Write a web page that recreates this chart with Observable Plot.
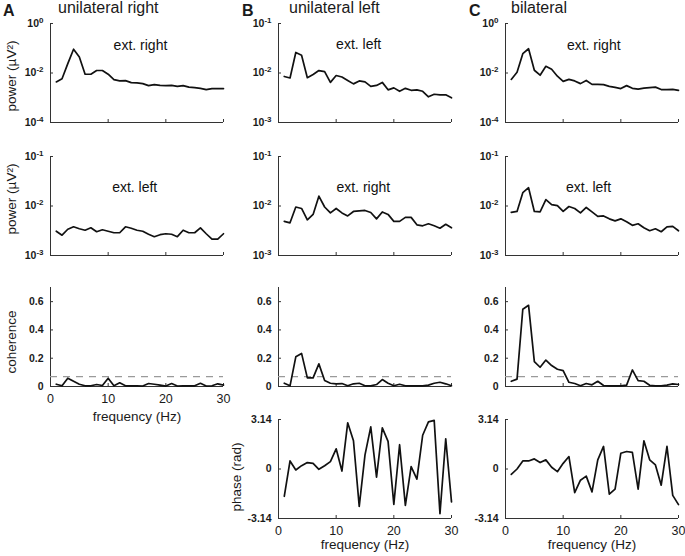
<!DOCTYPE html>
<html><head><meta charset="utf-8">
<script src="https://cdn.jsdelivr.net/npm/d3@7"></script>
<script src="https://cdn.jsdelivr.net/npm/@observablehq/plot@0.6"></script>
<style>
body{margin:0;background:#fff;}
#fig{position:relative;width:685px;height:556px;font-family:"Liberation Sans",Arial,sans-serif;color:#1a1a1a;overflow:hidden;}
.lab{position:absolute;white-space:nowrap;line-height:1;}
.rot{transform:translate(-50%,-50%) rotate(-90deg);}
.cen{transform:translate(-50%,-50%);}
.panel{position:absolute;}
</style></head><body><div id="fig"></div><script>
// ---- data (frequency in Hz) ----
const freq = [1,2,3,4,5,6,7,8,9,10,11,12,13,14,15,16,17,18,19,20,21,22,23,24,25,26,27,28,29,30];

// power (µV²), column A = unilateral right, B = unilateral left, C = bilateral
const powerA_extRight = [0.00437,0.00589,0.0240,0.0912,0.0447,0.00891,0.00891,0.0126,0.0126,0.00891,0.00537,0.00479,0.0049,0.00407,0.00398,0.00372,0.00309,0.00339,0.00316,0.00309,0.00316,0.00288,0.00309,0.00269,0.00257,0.0024,0.00214,0.00234,0.00234,0.00234];
const powerB_extLeft  = [0.00851,0.00794,0.0260,0.0229,0.00804,0.00933,0.0112,0.0107,0.00646,0.00891,0.00832,0.00708,0.00603,0.00692,0.00661,0.00537,0.00562,0.00646,0.00457,0.00501,0.00427,0.0049,0.00447,0.00457,0.00427,0.00331,0.00372,0.00363,0.00363,0.00316];
const powerC_extRight = [0.0055,0.0107,0.0603,0.0955,0.0129,0.00813,0.0186,0.0141,0.00741,0.00457,0.0055,0.00479,0.00372,0.00501,0.00347,0.00347,0.00339,0.00288,0.00263,0.00234,0.00309,0.0024,0.00224,0.00245,0.00257,0.00269,0.00214,0.00214,0.00219,0.0020];
const powerA_extLeft  = [0.00309,0.00257,0.00339,0.0038,0.00347,0.00324,0.00363,0.00302,0.00331,0.00309,0.00288,0.00288,0.0038,0.00355,0.00324,0.00309,0.00269,0.0024,0.00263,0.00275,0.00269,0.0024,0.00324,0.00288,0.00288,0.00363,0.00275,0.00214,0.00214,0.00275];
const powerB_extRight = [0.0049,0.00457,0.00955,0.00891,0.00525,0.00676,0.0158,0.00955,0.00724,0.00891,0.00724,0.00631,0.00776,0.00794,0.00813,0.00741,0.0055,0.00759,0.00676,0.0049,0.0049,0.00589,0.00589,0.00417,0.00398,0.00437,0.00398,0.00355,0.00427,0.00363];
const powerC_extLeft  = [0.00741,0.00776,0.0186,0.0234,0.00776,0.00759,0.0135,0.0107,0.0102,0.00776,0.00977,0.00891,0.00724,0.00933,0.00759,0.00617,0.00631,0.0055,0.00501,0.0055,0.00479,0.00407,0.00437,0.00363,0.00316,0.00347,0.00302,0.0038,0.00389,0.00316];

// coherence
const cohA = [0.016,0.005,0.059,0.037,0.016,0.005,0.005,0.014,0.007,0.059,0.005,0.026,0.005,0.004,0.004,0.003,0.021,0.016,0.010,0.003,0.021,0.003,0.005,0.005,0.005,0.023,0.003,0.005,0.019,0.010];
const cohB = [0.023,0.005,0.210,0.234,0.061,0.061,0.160,0.042,0.023,0.019,0.021,0.005,0.019,0.023,0.005,0.004,0.014,0.049,0.023,0.005,0.016,0.005,0.005,0.005,0.005,0.010,0.023,0.030,0.019,0.005];
const cohC = [0.037,0.052,0.546,0.574,0.176,0.136,0.187,0.148,0.122,0.112,0.030,0.021,0.005,0.021,0.012,0.037,0.007,0.005,0.005,0.005,0.010,0.117,0.042,0.037,0.009,0.005,0.005,0.010,0.019,0.014];
const cohThreshold = [0.07];

// phase (rad)
const phaseB = [-1.73,0.51,-0.06,0.21,0.41,0.36,-0.02,0.21,0.47,1.28,-0.13,2.93,1.79,-2.37,0.90,2.67,-0.51,2.61,1.75,-2.24,1.54,-2.31,0.15,-0.64,2.14,2.99,3.08,-2.84,1.92,-2.09];
const phaseC = [-0.34,0.0,0.51,0.51,0.64,0.41,0.58,0.11,-0.17,0.36,0.79,-1.50,-0.71,-0.45,-1.45,0.58,1.43,-1.60,-1.28,1.00,1.11,1.05,-1.28,1.79,0.58,0.26,-1.03,1.43,-1.67,-2.26];

// tick labels
const xTicks = [0,10,20,30];
const logTicksWide = [1e-4,1e-2,1];
const logTicksNarrow = [1e-3,1e-2,1e-1];
const cohTicks = [0,0.2,0.4,0.6];
const phaseTicks = [-3.14,0,3.14];
const phaseTickLabels = ["-3.14","0","3.14"];

// ---- layout ----
const FONT = '"Liberation Sans", Arial, Helvetica, sans-serif';
const fig = document.getElementById("fig");
const colLeft = {A:50, B:278, C:505};
const rowTop = {1:23, 2:156, 3:287, 4:419};
const PW = 173, PH = 99;
const NS = "http://www.w3.org/2000/svg";

function supFix(svg){
  svg.querySelectorAll("text").forEach(t => {
    const m = /^10\^(-?\d+)$/.exec(t.textContent);
    if (m) {
      t.textContent = "10";
      const s = document.createElementNS(NS, "tspan");
      s.setAttribute("dy", "-0.5em");
      s.setAttribute("font-size", "8");
      s.textContent = m[1];
      t.appendChild(s);
    }
  });
}

function panel(col, row, values, yOpt, yTicks, yFmt, opts = {}) {
  const mL = 46, mR = 6, mT = 8, mB = opts.xLabels ? 24 : 6;
  const data = freq.map((f, i) => ({f, v: values[i]}));
  const marks = [
    Plot.ruleX([0], {stroke: "#333", strokeWidth: 1}),
    Plot.ruleY([yOpt.domain[0]], {stroke: "#333", strokeWidth: 1}),
    Plot.axisX({ticks: xTicks, tickSize: -3, tickPadding: opts.xLabels ? 11 : 0,
      tickFormat: opts.xLabels ? (d => String(d)) : (() => ""), fontSize: 12.5, label: null, stroke: "#333"}),
    Plot.axisY({ticks: yTicks, tickSize: -3, tickPadding: 10, tickFormat: yFmt,
      fontSize: 10.5, fontWeight: "bold", label: null, stroke: "#333"}),
  ];
  if (opts.threshold) marks.push(Plot.ruleY(cohThreshold, {stroke: "#9a9a9a", strokeWidth: 1.4, strokeDasharray: "7,6"}));
  marks.push(Plot.line(data, {x: "f", y: "v", stroke: "#111", strokeWidth: 1.7}));
  if (opts.anno) marks.push(Plot.text([opts.anno], {x: "x", y: "y", text: "t", fontSize: 14, fill: "#111"}));
  const svg = Plot.plot({
    width: mL + PW + mR, height: mT + PH + mB,
    marginLeft: mL, marginRight: mR, marginTop: mT, marginBottom: mB,
    style: {fontFamily: FONT, color: "#1a1a1a", background: "transparent", overflow: "visible"},
    x: {domain: [0, 30]},
    y: yOpt,
    marks
  });
  supFix(svg);
  svg.classList.add("panel");
  svg.style.left = (colLeft[col] - mL) + "px";
  svg.style.top = (rowTop[row] - mT) + "px";
  fig.appendChild(svg);
}

const logFmt = d => "10^" + Math.round(Math.log10(d));
const wideLog = {type: "log", domain: [1e-4, 1]};
const narrowLog = {type: "log", domain: [1e-3, 1e-1]};
const cohY = {domain: [0, 0.7]};
const phaseY = {domain: [-3.14, 3.14]};
const cohFmt = d => d === 0 ? "0" : String(d);
const phaseFmt = d => phaseTickLabels[phaseTicks.indexOf(d)];

// row 1
panel("A", 1, powerA_extRight, wideLog, logTicksWide, logFmt, {anno: {x: 15.6, y: 0.13, t: "ext. right"}});
panel("B", 1, powerB_extLeft, narrowLog, logTicksNarrow, logFmt, {anno: {x: 13.9, y: 0.037, t: "ext. left"}});
panel("C", 1, powerC_extRight, wideLog, logTicksWide, logFmt, {anno: {x: 15.3, y: 0.13, t: "ext. right"}});
// row 2
panel("A", 2, powerA_extLeft, narrowLog, logTicksNarrow, logFmt, {anno: {x: 14.6, y: 0.0235, t: "ext. left"}});
panel("B", 2, powerB_extRight, narrowLog, logTicksNarrow, logFmt, {anno: {x: 14.7, y: 0.0235, t: "ext. right"}});
panel("C", 2, powerC_extLeft, narrowLog, logTicksNarrow, logFmt, {anno: {x: 14.4, y: 0.0235, t: "ext. left"}});
// row 3
panel("A", 3, cohA, cohY, cohTicks, cohFmt, {threshold: true, xLabels: true});
panel("B", 3, cohB, cohY, cohTicks, cohFmt, {threshold: true});
panel("C", 3, cohC, cohY, cohTicks, cohFmt, {threshold: true});
// row 4
panel("B", 4, phaseB, phaseY, phaseTicks, phaseFmt, {xLabels: true});
panel("C", 4, phaseC, phaseY, phaseTicks, phaseFmt, {xLabels: true});

// ---- text labels ----
function label(text, x, y, size, cls, weight) {
  const d = document.createElement("div");
  d.className = "lab " + (cls || "");
  d.textContent = text;
  d.style.left = x + "px";
  d.style.top = y + "px";
  d.style.fontSize = size + "px";
  if (weight) d.style.fontWeight = weight;
  fig.appendChild(d);
}
// panel letters & titles (top = baseline - 0.846*size)
label("A", 3, 17 - 0.846 * 16, 16, "", "bold");
label("unilateral right", 58, 13.5 - 0.846 * 16, 16);
label("B", 242, 17 - 0.846 * 16, 16, "", "bold");
label("unilateral left", 289, 13.5 - 0.846 * 16, 16);
label("C", 469, 17 - 0.846 * 16, 16, "", "bold");
label("bilateral", 511, 13.5 - 0.846 * 16, 16);
// axis titles
label("power (\u00b5V\u00b2)", 12, 76, 13.5, "rot");
label("power (\u00b5V\u00b2)", 12, 199, 13.5, "rot");
label("coherence", 12, 342, 13.5, "rot");
label("phase (rad)", 237, 477, 13.5, "rot");
label("frequency (Hz)", 137, 417, 13.5, "cen");
label("frequency (Hz)", 365, 545, 13.5, "cen");
label("frequency (Hz)", 592, 545, 13.5, "cen");
</script></body></html>
